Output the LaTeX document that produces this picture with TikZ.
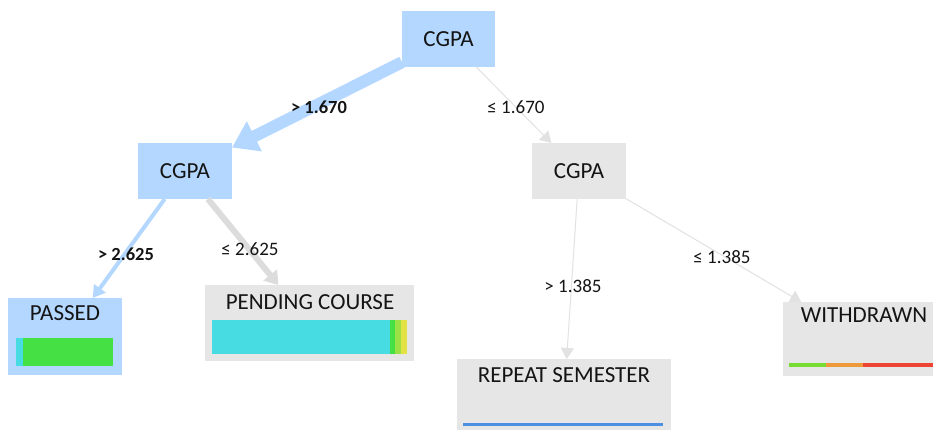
\documentclass[tikz,border=0pt]{standalone}
\usepackage{fontspec}
\setmainfont{Carlito}
\usetikzlibrary{arrows.meta}
\definecolor{nblue}{HTML}{B3D7FF}
\definecolor{ngrey}{HTML}{E6E6E6}
\definecolor{egrey}{HTML}{DCDCDC}
\definecolor{tgrey}{HTML}{E2E2E2}
\definecolor{txt}{HTML}{141414}
\definecolor{bcyan}{HTML}{46DCE2}
\definecolor{bgreen}{HTML}{44E044}
\definecolor{blgreen}{HTML}{9BE044}
\definecolor{byellow}{HTML}{E2E244}
\definecolor{wgreen}{HTML}{77DD33}
\definecolor{worange}{HTML}{EE9A3A}
\definecolor{wred}{HTML}{EE4433}
\definecolor{rblue}{HTML}{4A8FE2}
\tikzset{
  boxnode/.style={rectangle, inner sep=0pt, outer sep=0pt, draw=none},
  bluebox/.style={boxnode, fill=nblue},
  greybox/.style={boxnode, fill=ngrey},
  ntext/.style={font=\fontsize{23}{23}\selectfont, text=txt, inner sep=0pt},
  elabel/.style={font=\fontsize{19}{19}\selectfont, text=txt, inner sep=0pt},
  blabel/.style={elabel, font=\fontsize{18.5}{19}\selectfont\bfseries},
  thinedge/.style={draw=tgrey, line width=1pt, -{Triangle[width=13pt,length=11pt]}},
}
\begin{document}
\begin{tikzpicture}[x=1pt,y=-1pt]
\clip (0,0) rectangle (933,430);
\fill[white] (0,0) rectangle (933,430);
% decision nodes
\node[bluebox, minimum width=93pt, minimum height=56pt] (root) at (448.5,39) {};
\node[ntext] (roott) at (root) {CGPA};
\node[bluebox, minimum width=94pt, minimum height=56pt] (lc) at (185,171) {};
\node[ntext] (lct) at (lc) {CGPA};
\node[greybox, minimum width=94pt, minimum height=56pt] (rc) at (579,171) {};
\node[ntext] (rct) at (rc) {CGPA};
% leaves
\node[bluebox, minimum width=114pt, minimum height=77pt] (passed) at (65,336.5) {};
\node[ntext] (passedt) at (65,313) {PASSED};
\fill[bcyan] (16,338) rectangle (23,366);
\fill[bgreen] (23,338) rectangle (113,366);
\node[greybox, minimum width=209pt, minimum height=76pt] (pend) at (309.5,323) {};
\node[ntext] (pendt) at (310,302) {PENDING COURSE};
\fill[bcyan] (212,320) rectangle (390,354);
\fill[bgreen] (390,320) rectangle (395,354);
\fill[blgreen] (395,320) rectangle (401,354);
\fill[byellow] (401,320) rectangle (407,354);
\node[greybox, minimum width=214pt, minimum height=81pt] (rep) at (564,399.5) {};
\node[ntext] (rept) at (564,375) {REPEAT SEMESTER};
\fill[rblue] (463,422.5) rectangle (663,425.5);
\node[greybox, minimum width=162pt, minimum height=74pt] (wd) at (864,339) {};
\node[ntext] (wdt) at (864,315) {WITHDRAWN};
\fill[wgreen] (789,363) rectangle (826,367);
\fill[worange] (826,363) rectangle (863,367);
\fill[wred] (863,363) rectangle (945,367);
% edges
\draw[draw=nblue, line width=12pt, -{Triangle[width=32pt,length=25pt]}] (root) -- (lc);
\draw[thinedge] (root) -- (rc);
\draw[draw=nblue, line width=4pt, -{Triangle[width=14pt,length=12pt]}] (lc) -- (passed);
\draw[draw=egrey, line width=6pt, -{Triangle[width=17pt,length=13pt]}] (lc) -- (pend);
\draw[thinedge] (rc) -- (rep);
\draw[thinedge] (rc) -- (wd);
% edge labels
\node[blabel] (l1) at (319,107) {> 1.670};
\node[elabel] (l2) at (516,107) {≤ 1.670};
\node[blabel] (l3) at (126,254) {> 2.625};
\node[elabel] (l4) at (250,249) {≤ 2.625};
\node[elabel] (l5) at (573,286) {> 1.385};
\node[elabel] (l6) at (722,257) {≤ 1.385};
\end{tikzpicture}
\end{document}
